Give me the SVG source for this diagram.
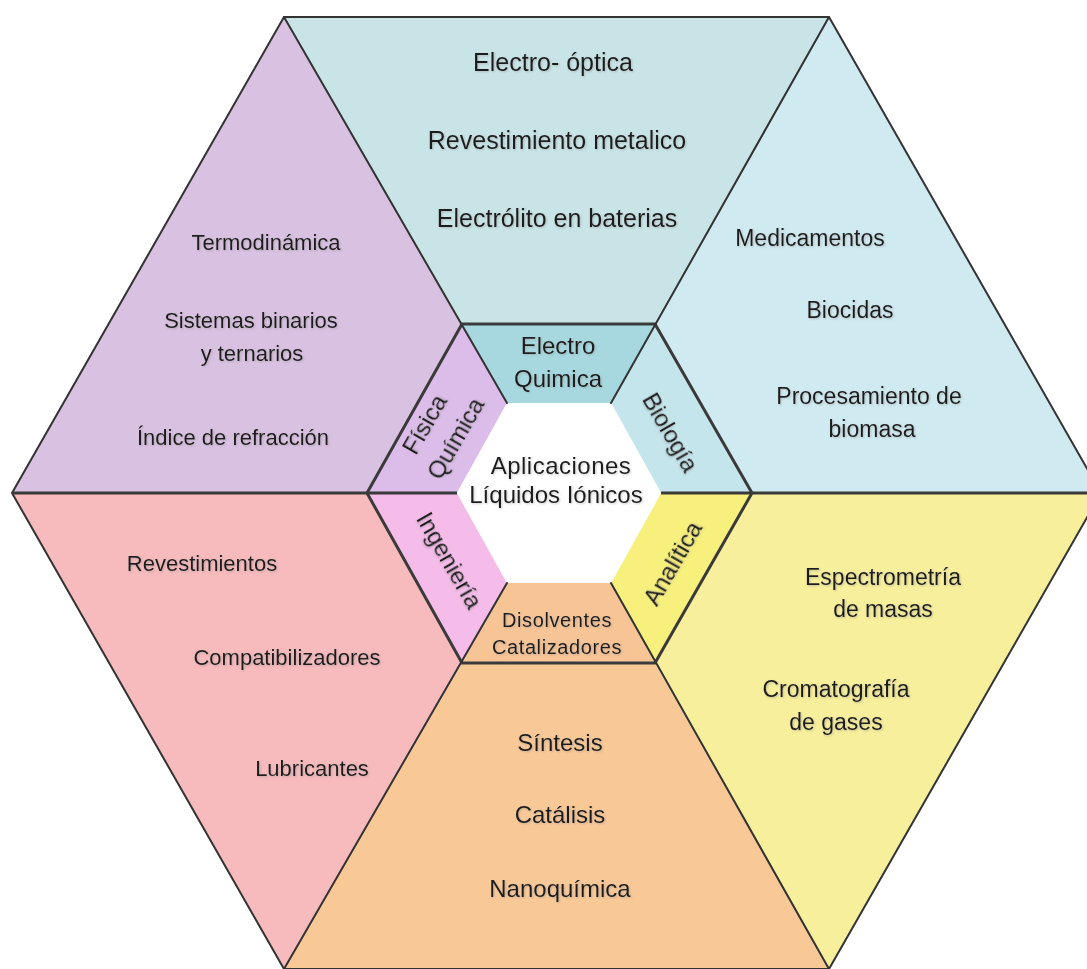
<svg xmlns="http://www.w3.org/2000/svg" width="1087" height="969" viewBox="0 0 1087 969">
<defs>
<filter id="sh" x="-10%" y="-30%" width="120%" height="160%">
<feDropShadow dx="1" dy="1" stdDeviation="0.8" flood-color="#888" flood-opacity="0.45"/>
</filter>
</defs>
<style>
.t{font-family:"Liberation Sans",Arial,sans-serif;font-size:22px;fill:#1c1c1c;text-anchor:middle;dominant-baseline:central;filter:url(#sh)}
.top{font-size:25px}
.r{font-size:23px}
.b{font-size:24px}
.c{font-size:24px}
.sm{font-size:20px;letter-spacing:0.6px}
.ln{stroke:#333;stroke-width:2;fill:none;stroke-linecap:round}
.lb{stroke:#3a3a3a;stroke-width:3;fill:none}
</style>
<rect width="1087" height="969" fill="#ffffff"/>
<g id="outer-top"><polygon points="284,17 829,17 655,324 462,324" fill="#c8e4e7"/>
<text class="t top" x="553" y="62">Electro- óptica</text>
<text class="t top" x="557" y="140">Revestimiento metalico</text>
<text class="t top" x="557" y="218">Electrólito en baterias</text></g>
<g id="outer-upper-right"><polygon points="829,17 1101,493 752,493 655,324" fill="#d0eaf1"/>
<text class="t r" x="810" y="238">Medicamentos</text>
<text class="t r" x="850" y="310">Biocidas</text>
<text class="t r" x="869" y="396">Procesamiento de</text>
<text class="t r" x="872" y="429">biomasa</text></g>
<g id="outer-lower-right"><polygon points="1101,493 829,969 655,663 752,493" fill="#f7ef9b"/>
<text class="t r" x="883" y="577">Espectrometría</text>
<text class="t r" x="883" y="609">de masas</text>
<text class="t r" x="836" y="689">Cromatografía</text>
<text class="t r" x="836" y="722">de gases</text></g>
<g id="outer-bottom"><polygon points="829,969 284,969 462,663 655,663" fill="#f9c897"/>
<text class="t b" x="560" y="742">Síntesis</text>
<text class="t b" x="560" y="814">Catálisis</text>
<text class="t b" x="560" y="888">Nanoquímica</text></g>
<g id="outer-lower-left"><polygon points="284,969 12,493 367,493 462,663" fill="#f7babd"/>
<text class="t" x="202" y="563">Revestimientos</text>
<text class="t" x="287" y="657">Compatibilizadores</text>
<text class="t" x="312" y="768">Lubricantes</text></g>
<g id="outer-upper-left"><polygon points="12,493 284,17 462,324 367,493" fill="#d9c1e1"/>
<text class="t" x="266" y="242">Termodinámica</text>
<text class="t" x="251" y="320">Sistemas binarios</text>
<text class="t" x="252" y="353">y ternarios</text>
<text class="t" x="233" y="437">Índice de refracción</text></g>
<g id="inner-top"><polygon points="462,324 655,324 611,403 507,403" fill="#a7d8df"/>
<text class="t c" x="558" y="345">Electro</text>
<text class="t c" x="558" y="378">Quimica</text></g>
<g id="inner-upper-right"><polygon points="655,324 752,493 661,493 611,403" fill="#c4e5eb"/>
<text class="t c" transform="translate(671,432) rotate(60)">Biología</text></g>
<g id="inner-lower-right"><polygon points="752,493 655,663 611,583 661,493" fill="#f7f07c"/>
<text class="t c" transform="translate(672,563) rotate(-60)">Analítica</text></g>
<g id="inner-bottom"><polygon points="655,663 462,663 507,583 611,583" fill="#f7c496"/>
<text class="t sm" x="557" y="620">Disolventes</text>
<text class="t sm" x="557" y="647">Catalizadores</text></g>
<g id="inner-lower-left"><polygon points="462,663 367,493 457,493 507,583" fill="#f5bbe9"/>
<text class="t c" transform="translate(450,560) rotate(60)">Ingeniería</text></g>
<g id="inner-upper-left"><polygon points="367,493 462,324 507,403 457,493" fill="#dcbde9"/>
<text class="t c" transform="translate(424,424) rotate(-60)">Física</text>
<text class="t c" transform="translate(455,438) rotate(-60)">Química</text></g>
<g id="center"><polygon points="507,403 611,403 661,493 611,583 507,583 457,493" fill="#ffffff"/>
<text class="t c" x="561" y="465" letter-spacing="0.5">Aplicaciones</text>
<text class="t c" x="556" y="494">Líquidos Iónicos</text></g>
<g id="connectors">
<polygon class="ln" points="284,17 829,17 1101,493 829,969 284,969 12,493"/>
<polygon class="lb" points="462,324 655,324 752,493 655,663 462,663 367,493"/>
<line class="ln" x1="284" y1="17" x2="507" y2="403"/>
<line class="ln" x1="829" y1="17" x2="611" y2="403"/>
<line class="ln" x1="829" y1="969" x2="611" y2="583"/>
<line class="ln" x1="284" y1="969" x2="507" y2="583"/>
<line class="lb" x1="12" y1="493" x2="457" y2="493"/>
<line class="lb" x1="661" y1="493" x2="1101" y2="493"/>
</g>
</svg>
